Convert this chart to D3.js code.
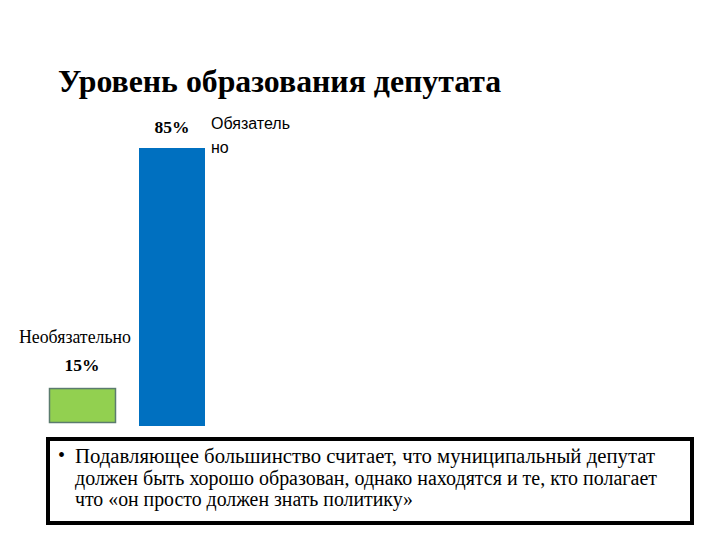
<!DOCTYPE html>
<html><head><meta charset="utf-8">
<script src="https://cdn.jsdelivr.net/npm/d3@7"></script>
<style>body{margin:0;background:#fff;} svg{display:block;}</style>
</head><body>
<svg id="c" width="720" height="540"></svg>
<script>
const categories = ["Необязательно", "Обязательно"];
const values = [15, 85];
const valueLabels = ["15%", "85%"];
const title = "Уровень образования депутата";
const noteLines = [
  "Подавляющее большинство считает, что муниципальный депутат",
  "должен быть хорошо образован, однако находятся и те, кто полагает",
  "что «он просто должен знать политику»"
];
const noteWidths = [580, 582, 338];

const svg = d3.select("#c");
const serif = "'Liberation Serif','Times New Roman',serif";
const sans = "'Liberation Sans',Arial,sans-serif";

svg.append("text").attr("x", 58).attr("y", 92)
  .attr("font-family", serif).attr("font-weight", "bold").attr("font-size", 31.8)
  .text(title);

const x = d3.scaleOrdinal().domain(categories).range([49, 139]);
const barW = 66;
const y = d3.scaleLinear().domain([4.6, 85]).range([426, 148]);
const colors = d3.scaleOrdinal().domain(categories).range(["#92d050", "#0070c0"]);
const strokes = d3.scaleOrdinal().domain(categories).range(["#5b7b6e", "none"]);

svg.selectAll("rect.bar").data(categories).join("rect")
  .attr("class", "bar")
  .attr("x", d => x(d) + (d === categories[0] ? 0.5 : 0))
  .attr("y", (d, i) => y(values[i]) + (i === 0 ? -1.5 : 0))
  .attr("width", barW)
  .attr("height", (d, i) => y.range()[0] - y(values[i]) - (i === 0 ? 2 : 0))
  .attr("fill", d => colors(d))
  .attr("stroke", d => strokes(d)).attr("stroke-width", 1.5);

// value labels
svg.selectAll("text.val").data(categories).join("text")
  .attr("class", "val")
  .attr("x", d => x(d) + barW / 2)
  .attr("y", (d, i) => i === 0 ? 371 : 133)
  .attr("text-anchor", "middle")
  .attr("font-family", serif).attr("font-weight", "bold").attr("font-size", 17.5)
  .text((d, i) => valueLabels[i]);

// category labels
svg.append("text").attr("x", 19).attr("y", 343)
  .attr("font-family", serif).attr("font-size", 17.8).text(categories[0]);
const cat2 = svg.append("text").attr("font-family", sans).attr("font-size", 16);
cat2.append("tspan").attr("x", 211).attr("y", 129).text(categories[1].slice(0, 9));
cat2.append("tspan").attr("x", 211).attr("y", 153).text(categories[1].slice(9));

// note box
svg.append("rect").attr("x", 48).attr("y", 439).attr("width", 644).attr("height", 84)
  .attr("fill", "#fff").attr("stroke", "#000").attr("stroke-width", 4);
svg.append("text").attr("x", 58).attr("y", 462)
  .attr("font-family", serif).attr("font-size", 20).text("•");
noteLines.forEach((l, i) => svg.append("text")
  .attr("font-family", serif).attr("font-size", 20.5)
  .attr("x", 75).attr("y", 463 + i * 21.5)
  .attr("textLength", noteWidths[i]).attr("lengthAdjust", "spacingAndGlyphs")
  .text(l));
</script>
</body></html>
